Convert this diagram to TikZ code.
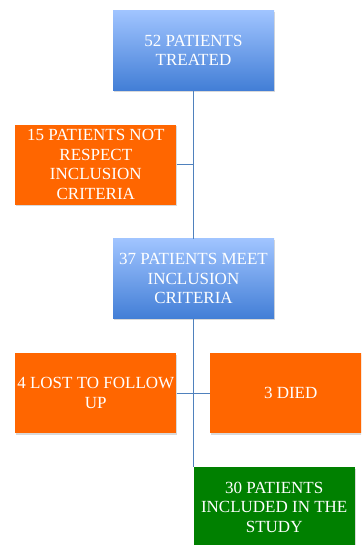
\documentclass[tikz,border=0pt]{standalone}
\usepackage{fontspec}
\setmainfont{Liberation Serif}
\usepackage{xcolor}
\usetikzlibrary{positioning,calc,shadows}

\definecolor{blueTop}{RGB}{160,196,255}
\definecolor{blueBot}{RGB}{66,126,214}
\definecolor{flowOrange}{RGB}{255,102,0}
\definecolor{flowGreen}{RGB}{0,128,0}
\definecolor{lineBlue}{RGB}{79,129,189}

\begin{document}
\begin{tikzpicture}[
    x=1pt, y=1pt,
    node distance=148pt and 17pt,
    box/.style={rectangle, minimum width=161pt, minimum height=80pt, inner sep=2pt, align=center, text=white, font=\fontsize{17}{19.5}\selectfont, drop shadow={shadow xshift=1pt, shadow yshift=-1.5pt, opacity=0.3}},
    bluebox/.style={box, top color=blueTop, bottom color=blueBot},
    orangebox/.style={box, fill=flowOrange},
    greenbox/.style={box, fill=flowGreen},
    line/.style={draw=lineBlue, line width=0.8pt}
]
    \useasboundingbox (0,0) rectangle (361,-545);
    \clip (0,0) rectangle (361,-545);

    % Main column
    \node[bluebox] (treated) at (193.5,-50.5) {52 PATIENTS\\TREATED};
    \node[bluebox, below=of treated] (meet) {37 PATIENTS MEET\\INCLUSION\\CRITERIA};

    % Excluded
    \coordinate (j1) at ($(treated.south)!0.5!(meet.north)$);
    \node[orangebox, left=of j1] (excl) {15 PATIENTS NOT\\RESPECT\\INCLUSION\\CRITERIA};

    % Lost and died
    \coordinate[below=74pt of meet.south] (j2);
    \node[orangebox, left=of j2] (lost) {4 LOST TO FOLLOW\\UP};
    \node[orangebox, right=16.5pt of j2] (died) {3 DIED};

    % Final
    \node[greenbox, below right=148pt and 0pt of meet.south] (included) {30 PATIENTS\\INCLUDED IN THE\\STUDY};

    % Connecting lines
    \path[line] (treated) -- (meet);
    \path[line] (excl) -- (j1);
    \path[line] (meet) -- (included.north west);
    \path[line] (lost) -- (died);
\end{tikzpicture}
\end{document}
